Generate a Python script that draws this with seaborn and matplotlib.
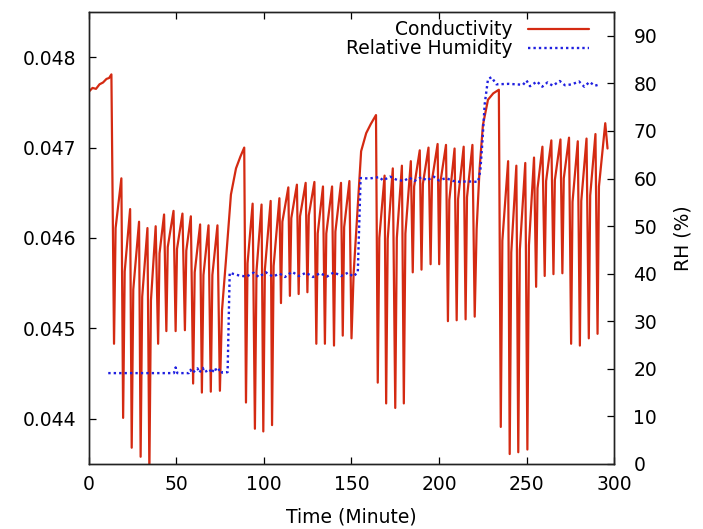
import numpy as np
import pandas as pd
import matplotlib
matplotlib.use("Agg")
import matplotlib.pyplot as plt
import seaborn as sns

# Conductivity trace (minute, value)
cond_time = [0, 2, 4, 6, 8, 10, 11.5, 12.8,
             14.3, 15.2, 18.5, 19.5, 20.4, 23.5, 24.4, 25.3, 28.6,
             29.5, 30.4, 33.4, 34.5, 35.4, 38.1, 39.5, 40.3, 42.9,
             44.2, 45.0, 48.3, 49.5, 50.3, 53.4, 54.8, 55.6, 58.2,
             59.5, 60.4, 63.5, 64.5, 65.4, 68.3, 69.6, 70.5, 73.4,
             74.8, 76.0, 78.2, 81.1, 84.0, 86.5, 88.7,
             89.7, 90.6, 93.5, 94.8, 95.7, 98.6, 99.6, 100.5, 103.8,
             104.6, 105.5, 108.8, 109.7, 110.5, 113.9, 114.8, 115.6, 118.8,
             119.8, 120.6, 123.8, 124.8, 125.6, 128.8, 129.9, 130.7, 133.7,
             134.8, 135.6, 138.9, 140.0, 140.8, 144.0, 145.0, 145.8, 148.8,
             150.0, 151.2, 152.6, 155.5, 158.4, 161.0, 164.0,
             165.0, 165.9, 168.9, 169.8, 170.7, 173.6, 175.0, 175.9, 178.8,
             179.9, 180.8, 183.9, 185.0, 185.8, 189.0, 190.0, 190.8, 194.0,
             195.2, 196.0, 199.2, 200.1, 200.9, 204.0, 205.1, 205.9, 208.9,
             210.1, 210.9, 214.1, 215.2, 216.0, 219.1,
             220.4, 221.5, 223.2, 225.1, 228.0, 231.0, 234.2,
             235.3, 236.2, 239.5, 240.4, 241.3, 244.2, 245.3, 246.2, 249.3,
             250.5, 251.4, 254.3, 255.5, 256.3, 259.1, 260.4, 261.2, 264.2,
             265.4, 266.2, 269.4, 270.5, 271.3, 274.3, 275.5, 276.3, 279.3,
             280.5, 281.3, 284.3, 285.6, 286.4, 289.4, 290.6, 291.4, 295.0,
             296.3]
cond_value = [0.04762, 0.04766, 0.04765, 0.04770, 0.04772, 0.04776, 0.04777, 0.04781,
              0.04483, 0.04611, 0.04666, 0.04401, 0.04563, 0.04632, 0.04368, 0.04543, 0.04618,
              0.04358, 0.04535, 0.04611, 0.04340, 0.04531, 0.04613, 0.04483, 0.04583, 0.04626,
              0.04497, 0.04590, 0.04630, 0.04497, 0.04588, 0.04627, 0.04498, 0.04586, 0.04624,
              0.04439, 0.04562, 0.04615, 0.04429, 0.04559, 0.04614, 0.04430, 0.04559, 0.04614,
              0.04431, 0.04520, 0.04574, 0.04648, 0.04677, 0.04690, 0.04700,
              0.04418, 0.04572, 0.04638, 0.04389, 0.04563, 0.04637, 0.04386, 0.04565, 0.04641,
              0.04393, 0.04569, 0.04644, 0.04528, 0.04618, 0.04656, 0.04536, 0.04622, 0.04659,
              0.04538, 0.04624, 0.04661, 0.04540, 0.04625, 0.04662, 0.04483, 0.04605, 0.04657,
              0.04483, 0.04605, 0.04657, 0.04481, 0.04607, 0.04661, 0.04492, 0.04612, 0.04663,
              0.04489, 0.04560, 0.04604, 0.04696, 0.04716, 0.04726, 0.04736,
              0.04440, 0.04600, 0.04669, 0.04417, 0.04599, 0.04677, 0.04412, 0.04600, 0.04680,
              0.04417, 0.04605, 0.04685, 0.04562, 0.04657, 0.04697, 0.04565, 0.04660, 0.04700,
              0.04571, 0.04664, 0.04704, 0.04571, 0.04663, 0.04703, 0.04508, 0.04642, 0.04699,
              0.04509, 0.04643, 0.04701, 0.04510, 0.04645, 0.04703,
              0.04513, 0.04610, 0.04677, 0.04725, 0.04753, 0.04760, 0.04764,
              0.04391, 0.04597, 0.04685, 0.04361, 0.04584, 0.04680, 0.04363, 0.04587, 0.04683,
              0.04366, 0.04592, 0.04689, 0.04546, 0.04655, 0.04701, 0.04558, 0.04663, 0.04708,
              0.04560, 0.04664, 0.04709, 0.04561, 0.04666, 0.04711, 0.04483, 0.04640, 0.04707,
              0.04481, 0.04641, 0.04710, 0.04489, 0.04647, 0.04715, 0.04494, 0.04657, 0.04727,
              0.04699]

# Relative humidity trace (minute, %)
rh_time = [11, 48.5, 49.5, 50.5, 57, 58, 59, 62, 63, 65, 66, 69, 70, 72, 73, 75, 76, 79.2,
           80.4, 82, 86, 90, 94, 97, 101, 105, 109, 112, 116, 120, 124, 128, 132, 136,
           140, 144, 148, 151, 153.6,
           155.2, 160, 166, 168, 172, 176, 180, 183, 186, 190, 193, 197, 200, 204, 208,
           212, 216, 222.3,
           223.6, 224.7, 226.1, 228, 230, 232.8, 240, 248, 250, 252, 256, 259, 262, 265,
           269, 272, 276, 280, 283, 286, 289, 292]
rh_value = [19.1, 19.1, 20.3, 19.1, 19.1, 19.8, 19.1, 20.1, 19.2, 20.2, 19.3, 19.9, 19.1, 20.2,
            19.4, 20.0, 19.2, 19.3,
            40.2, 40.0, 39.6, 39.4, 40.2, 39.3, 40.3, 39.4, 40.0, 39.3, 40.4, 39.5, 40.2,
            39.3, 40.1, 39.4, 40.3, 39.5, 40.2, 39.4, 40.3,
            60.1, 60.0, 60.3, 59.6, 60.4, 59.7, 59.5, 60.2, 59.5, 60.3, 59.6, 60.4, 59.6,
            60.1, 59.5, 59.3, 59.4, 59.3,
            61.6, 67.2, 75.6, 80.9, 81.3, 79.8, 79.9, 79.7, 80.6, 79.4, 80.4, 79.3, 80.2,
            79.5, 80.5, 79.6, 79.8, 80.4, 79.3, 80.3, 79.5, 79.8]

x_ticks = [0, 50, 100, 150, 200, 250, 300]
cond_ticks = [0.044, 0.045, 0.046, 0.047, 0.048]
rh_ticks = [0, 10, 20, 30, 40, 50, 60, 70, 80, 90]

RED = "#d42a12"
BLUE = "#2020e0"

sns.set_style("ticks")
plt.rcParams['font.family'] = ['DejaVu Sans']
plt.rcParams['font.size'] = 13.5
plt.rcParams['text.color'] = 'black'
plt.rcParams['axes.labelcolor'] = 'black'
plt.rcParams['xtick.color'] = 'black'
plt.rcParams['ytick.color'] = 'black'

fig = plt.figure(figsize=(7.03, 5.29), dpi=100)
ax = fig.add_axes([0.1266, 0.1229, 0.7468, 0.8544])
ax2 = ax.twinx()

cond_df = pd.DataFrame({'time': cond_time, 'conductivity': cond_value})
rh_df = pd.DataFrame({'time': rh_time, 'rh': rh_value})

sns.lineplot(data=cond_df, x='time', y='conductivity', ax=ax, color=RED,
             linewidth=1.6, estimator=None, sort=False, legend=False)
sns.lineplot(data=rh_df, x='time', y='rh', ax=ax2, color=BLUE,
             linewidth=1.7, estimator=None, sort=False, legend=False)
rh_line = ax2.get_lines()[0]
rh_line.set_linestyle((0, (1, 1.3)))

ax.set_xlim(0, 300)
ax.set_ylim(0.0435, 0.0485)
ax2.set_ylim(0, 95)

ax.set_xticks(x_ticks)
ax.set_yticks(cond_ticks)
ax.set_yticklabels([f"{v:.3f}" for v in cond_ticks])
ax2.set_yticks(rh_ticks)

ax.tick_params(axis='x', direction='in', length=5, width=0.9, top=True, pad=8)
ax.tick_params(axis='y', direction='in', length=5, width=0.9, right=False, pad=9)
ax2.tick_params(axis='y', direction='in', length=5, width=0.9, pad=14)

for a in (ax, ax2):
    for s in a.spines.values():
        s.set_linewidth(1.0)
        s.set_color('#222222')

ax.set_xlabel("Time (Minute)", labelpad=10)
ax.set_ylabel("")
ax2.set_ylabel("RH (%)", labelpad=12)

handles = [ax.get_lines()[0], rh_line]
ax2.legend(handles, ["Conductivity", "Relative Humidity"], loc='upper right',
           bbox_to_anchor=(0.952, 0.982), markerfirst=False, frameon=False,
           handlelength=3.25, handletextpad=0.8, labelspacing=0.0,
           borderpad=0, borderaxespad=0)

fig.savefig("out.png", dpi=100)
